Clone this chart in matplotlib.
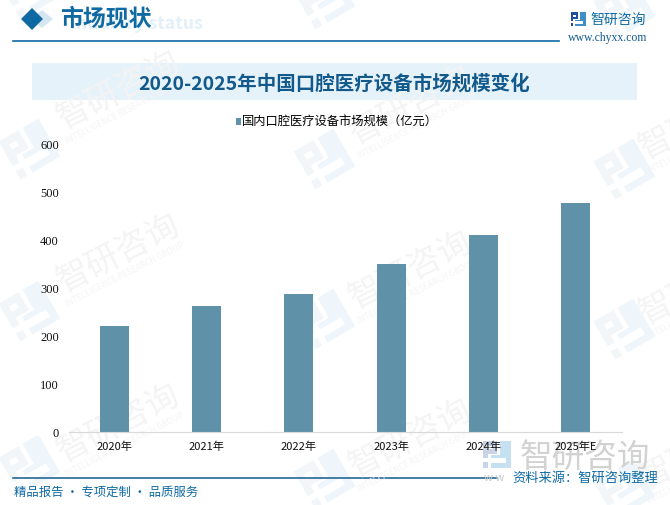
import matplotlib
matplotlib.use('Agg')
import matplotlib.pyplot as plt
from matplotlib.patches import Polygon, Rectangle
from matplotlib.transforms import Affine2D

plt.rcParams['font.family'] = ['Noto Sans CJK SC', 'DejaVu Sans']

years = ['2020年', '2021年', '2022年', '2023年', '2024年', '2025年E']
market_size = [222, 264, 289, 351, 412, 479]
y_ticks = [0, 100, 200, 300, 400, 500, 600]

W, H = 670, 505
BLUE = '#0f6aa3'
DARK = '#135a8c'
BAR = '#5f92a9'

# watermark positions, px from top left
wm_text_pos = [(118, 90), (118, 253), (118, 423), (410, 105), (410, 270), (410, 438), (700, 120), (700, 285), (700, 450)]
wm_logo_pos = [(30, -10), (30, 150), (30, 312), (30, 466), (325, 0), (325, 160), (325, 320), (325, 480), (625, 10), (625, 170), (625, 330), (625, 490)]

fig = plt.figure(figsize=(W / 100, H / 100), dpi=100)

# background layer in pixel coordinates
bg = fig.add_axes([0, 0, 1, 1], zorder=0)
bg.set_xlim(0, W)
bg.set_ylim(H, 0)
bg.axis('off')


def logo(ax, x, y, s, angle=0, c1='#f3f6f9', c2='#eff6fb'):
    # rough version of the company mark, s = size in px, x/y = centre
    tr = Affine2D().translate(-.5, -.5).scale(s).rotate_deg(angle).translate(x, y) + ax.transData
    ax.add_patch(Polygon([(0, 0), (.5, 0), (.5, .45), (.17, .45), (.17, .62), (0, .62)], fc=c1, ec='none', transform=tr))
    ax.add_patch(Rectangle((.16, .17), .18, .13, fc='white', ec='none', transform=tr))
    ax.add_patch(Rectangle((0, .75), .17, .2, fc=c1, ec='none', transform=tr))
    ax.add_patch(Polygon([(.6, 0), (1, 0), (1, .95), (.3, .95), (.3, .8), (.83, .8), (.83, .62), (.3, .62), (.3, .5), (.6, .5)], fc=c2, ec='none', transform=tr))


# repeated watermark
for lx, ly in wm_logo_pos:
    logo(bg, lx, ly, 46, -30)
for tx, ty in wm_text_pos:
    bg.text(tx, ty, '智研咨询', fontsize=24, color='#f4f4f4', rotation=27, ha='center', va='center', clip_on=True)
    bg.text(tx + 7, ty + 22, 'INTELLIGENCE RESEARCH GROUP', fontsize=6, color='#f5f5f5',
            rotation=27, ha='center', va='center', clip_on=True)

# header
bg.add_patch(Polygon([(42, 10), (53, 19), (42, 28), (31, 19)], fc='#d4e6f1', ec='none'))
bg.add_patch(Polygon([(32, 8), (43, 19), (32, 30), (21, 19)], fc=BLUE, ec='none'))
bg.text(70, 24, 'Industry status', fontsize=12.8, color='#e3f0f8', weight='bold', ha='left', va='center')
bg.text(60, 19.5, '市场现状', fontsize=16.5, color=BLUE, weight='bold', ha='left', va='center')
bg.plot([13, 559], [40.5, 40.5], color=BLUE, lw=1.2)
logo(bg, 578, 19.5, 15, 0, '#1d4f9c', '#3f8fc6')
bg.text(618.5, 19.5, '智研咨询', fontsize=10, color=BLUE, ha='center', va='center')
bg.text(607.5, 38.5, 'www.chyxx.com', fontsize=8.5, color=DARK, family=['Liberation Serif'], ha='center', va='center')

# title band
bg.add_patch(Rectangle((32, 63), 605, 37, fc='#e6f2fa', ec='none'))
bg.text(334.5, 84, '2020-2025年中国口腔医疗设备市场规模变化', fontsize=14, color=DARK, weight='bold',
        ha='center', va='center')

# big watermark bottom right
logo(bg, 497, 455, 28, 0, '#c9d3e6', '#c5e0f0')
bg.text(585, 458, '智研咨询', fontsize=23.5, color='#d2d2d2', ha='center', va='center')
bg.text(484, 478, 'w w', fontsize=8, color='#c9c9c9', ha='left', va='center')

# footer
bg.plot([13, 497], [477.5, 477.5], color=DARK, lw=1.1)
bg.text(14, 492, '精品报告 · 专项定制 · 品质服务', fontsize=8.9, color=BLUE, ha='left', va='center')
bg.text(658, 478, '资料来源：智研咨询整理', fontsize=9.5, color=BLUE, ha='right', va='center')

# chart
ax = fig.add_axes([68.5 / W, 1 - 432.3 / H, 553 / W, 287.3 / H], zorder=1)
ax.patch.set_alpha(0)
x = range(len(years))
ax.bar(x, market_size, width=0.315, color=BAR, label='国内口腔医疗设备市场规模（亿元）')
ax.set_xlim(-0.5, 5.5)
ax.set_ylim(0, 600)
ax.set_xticks(list(x))
ax.set_xticklabels(years, fontsize=8, color='#111111')
ax.set_yticks(y_ticks)
ax.set_yticklabels([str(v) for v in y_ticks], fontsize=9, color='#111111', family=['Liberation Serif'])
ax.tick_params(length=0)
ax.tick_params(axis='x', pad=7)
ax.tick_params(axis='y', pad=7)
for side in ['top', 'right', 'left']:
    ax.spines[side].set_visible(False)
ax.spines['bottom'].set_color('#d9d9d9')

fig.legend(*ax.get_legend_handles_labels(), loc='center', bbox_to_anchor=(337 / W, 1 - 122 / H),
           frameon=False, fontsize=8.8, handlelength=0.45, handleheight=0.5, handletextpad=0.05)

fig.savefig('out.png', dpi=100)
